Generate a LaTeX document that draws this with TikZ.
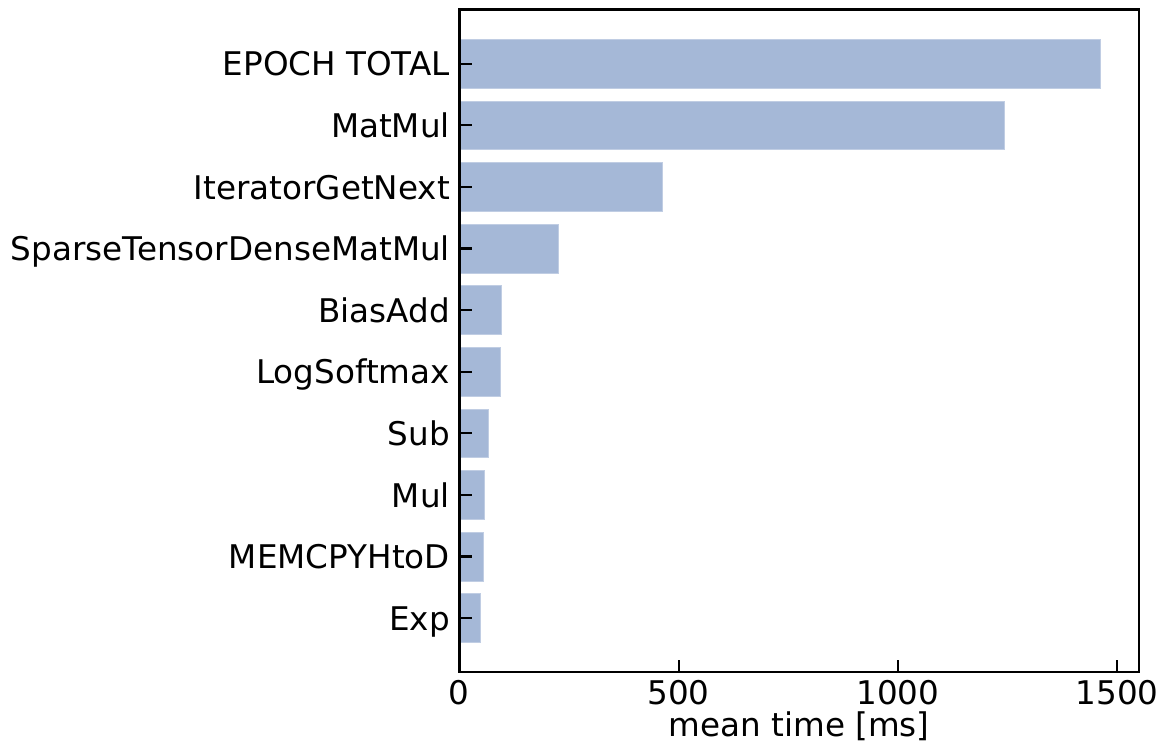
\documentclass[tikz,border=0pt]{standalone}
\usepackage{fontspec}
\setmainfont{DejaVu Sans}
\definecolor{barblue}{HTML}{A5B8D7}
\begin{document}
\begin{tikzpicture}[x=1pt,y=-1pt,
  lab/.style={font=\fontsize{32.6}{39}\selectfont, inner sep=0pt, text=black},
  bar/.style={fill=barblue, draw=barblue!70!white, line width=0.6pt},
  axisline/.style={draw=black, line width=2.4pt},
  tickline/.style={draw=black, line width=2.2pt}]
\useasboundingbox (0,0) rectangle (1169,749);
\begin{scope}[shift={(459.3,63.7)}, x=0.4386pt, y=-61.6pt]
  % bars
  \foreach \v [count=\i from 0] in {1460.8,1242,462.8,226.6,96.6,93.5,67,57,54,47.2}
    \path[bar] (0,\i-0.396) rectangle (\v,\i+0.396);
  % axes frame
  \path[axisline] (0,-0.883) rectangle (1549.7,9.875);
  % y ticks and labels
  \foreach \t [count=\i from 0] in {EPOCH TOTAL,MatMul,IteratorGetNext,SparseTensorDenseMatMul,BiasAdd,LogSoftmax,Sub,Mul,MEMCPYHtoD,Exp}{
    \coordinate (yt\i) at (0,\i);
    \draw[tickline] (yt\i) -- ++(13pt,0);
    \node[lab, anchor=base east, xshift=-9.3pt, yshift=-12.2pt] (ylab\i) at (yt\i) {\t};
  }
  % x ticks and labels
  \foreach \v in {0,500,1000,1500}{
    \coordinate (xt\v) at (\v,9.875);
    \draw[tickline] (xt\v) -- ++(0,12pt);
    \node[lab, anchor=north, yshift=-8.5pt] (xlab\v) at (xt\v) {\v};
  }
  \coordinate (xmid) at (774.85,9.875);
  \node[lab, anchor=north, yshift=-40pt] (xaxislabel) at (xmid) {mean time [ms]};
\end{scope}
\end{tikzpicture}
\end{document}
